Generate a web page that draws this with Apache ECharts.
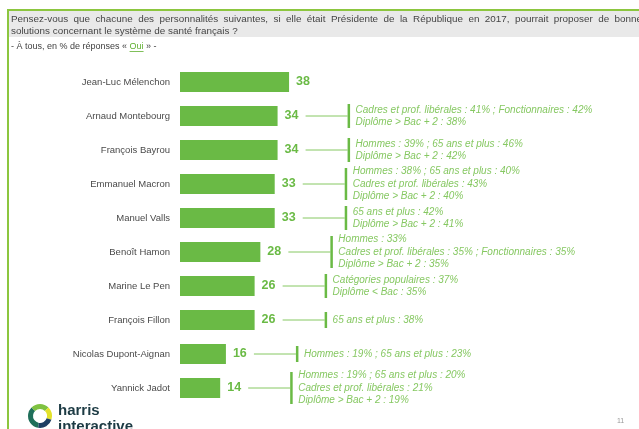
<!DOCTYPE html>
<html><head><meta charset="utf-8">
<script src="https://cdn.jsdelivr.net/npm/echarts@6/dist/echarts.min.js"></script>
<style>html,body{margin:0;padding:0;background:#fff;}#c{width:639px;height:429px;}</style>
</head><body><div id="c"></div>
<script>
const categories = ['Jean-Luc Mélenchon','Arnaud Montebourg','François Bayrou','Emmanuel Macron','Manuel Valls','Benoît Hamon','Marine Le Pen','François Fillon','Nicolas Dupont-Aignan','Yannick Jadot'];
const values = [38,34,34,33,33,28,26,26,16,14];
const notes = [
  [],
  ['Cadres et prof. libérales : 41% ; Fonctionnaires : 42%','Diplôme > Bac + 2 : 38%'],
  ['Hommes : 39% ; 65 ans et plus : 46%','Diplôme > Bac + 2 : 42%'],
  ['Hommes : 38% ; 65 ans et plus : 40%','Cadres et prof. libérales : 43%','Diplôme > Bac + 2 : 40%'],
  ['65 ans et plus : 42%','Diplôme > Bac + 2 : 41%'],
  ['Hommes : 33%','Cadres et prof. libérales : 35% ; Fonctionnaires : 35%','Diplôme > Bac + 2 : 35%'],
  ['Catégories populaires : 37%','Diplôme < Bac : 35%'],
  ['65 ans et plus : 38%'],
  ['Hommes : 19% ; 65 ans et plus : 23%'],
  ['Hommes : 19% ; 65 ans et plus : 20%','Cadres et prof. libérales : 21%','Diplôme > Bac + 2 : 19%']
];
const titleLines = ['Pensez-vous que chacune des personnalités suivantes, si elle était Présidente de la République en 2017, pourrait proposer de bonnes','solutions concernant le système de santé français ?'];
const subtitleParts = ['- À tous, en % de réponses « ','Oui',' » -'];

const GREEN = '#6aba45';
const LIGHT = '#86c862';
const FONT = '"Liberation Sans", Arial, sans-serif';
const TITLE_FONT = '9.9px ' + FONT;
const SUB_FONT = '9px ' + FONT;

const ctx = document.createElement('canvas').getContext('2d');
function measure(t, f){ ctx.font = f; return ctx.measureText(t).width; }

const graphics = [
  {type:'rect', shape:{x:9,y:10,width:630,height:27}, style:{fill:'#e9e9e9'}, z:0},
  {type:'rect', shape:{x:7,y:9,width:632,height:2}, style:{fill:'#8cc63f'}},
  {type:'rect', shape:{x:7,y:9,width:2,height:420}, style:{fill:'#8cc63f'}}
];
(function(){
  const words = titleLines[0].split(' ');
  const total = words.reduce((s,w)=>s+measure(w,TITLE_FONT),0);
  const gap = (647 - 11 - total)/(words.length-1);
  let x = 11;
  words.forEach(w=>{
    graphics.push({type:'text', x:x, y:19, style:{text:w, fill:'#454545', font:TITLE_FONT, verticalAlign:'middle'}});
    x += measure(w,TITLE_FONT) + gap;
  });
})();
graphics.push({type:'text', x:11, y:31, style:{text:titleLines[1], fill:'#454545', font:TITLE_FONT, verticalAlign:'middle'}});
(function(){
  const w0 = measure(subtitleParts[0], SUB_FONT);
  const w1 = measure(subtitleParts[1], SUB_FONT);
  const y = 46.5;
  graphics.push({type:'text', x:11, y:y, style:{text:subtitleParts[0], fill:'#404040', font:SUB_FONT, verticalAlign:'middle'}});
  graphics.push({type:'text', x:11+w0, y:y, style:{text:subtitleParts[1], fill:'#5fb030', font:SUB_FONT, verticalAlign:'middle'}});
  graphics.push({type:'line', shape:{x1:11+w0,y1:y+5,x2:11+w0+w1,y2:y+5}, style:{stroke:'#5fb030', lineWidth:0.8}});
  graphics.push({type:'text', x:11+w0+w1, y:y, style:{text:subtitleParts[2], fill:'#404040', font:SUB_FONT, verticalAlign:'middle'}});
})();
graphics.push(
  {type:'arc', shape:{cx:40, cy:416, r:9.5, startAngle:Math.PI*0.55, endAngle:Math.PI*1.25}, style:{stroke:'#1f6f5a', lineWidth:5, fill:null}},
  {type:'arc', shape:{cx:40, cy:416, r:9.5, startAngle:Math.PI*1.25, endAngle:Math.PI*1.75}, style:{stroke:'#7fc241', lineWidth:5, fill:null}},
  {type:'arc', shape:{cx:40, cy:416, r:9.5, startAngle:Math.PI*1.75, endAngle:Math.PI*2.1}, style:{stroke:'#e3e22a', lineWidth:5, fill:null}},
  {type:'arc', shape:{cx:40, cy:416, r:9.5, startAngle:Math.PI*0.1, endAngle:Math.PI*0.55}, style:{stroke:'#1d3f63', lineWidth:5, fill:null}},
  {type:'text', x:58, y:411, style:{text:'harris', fill:'#1d3b44', font:'bold 15px '+FONT, verticalAlign:'middle'}},
  {type:'text', x:58, y:427, style:{text:'interactive', fill:'#1d3b44', font:'bold 15px '+FONT, verticalAlign:'middle'}},
  {type:'text', x:617, y:421, style:{text:'11', fill:'#999', font:'7px '+FONT, verticalAlign:'middle'}}
);

const chart = echarts.init(document.getElementById('c'));
const noteData = values.map((v,i)=>[v,i]);

chart.setOption({
  animation:false,
  grid:{left:180, top:65, width:287, height:340},
  xAxis:{type:'value', min:0, max:100, show:false},
  yAxis:{type:'category', data:categories, inverse:true,
    axisLine:{show:false}, axisTick:{show:false}, splitLine:{show:false},
    axisLabel:{color:'#4a4a4a', fontSize:9.5, fontFamily:FONT, margin:10}},
  series:[
    {type:'bar', data:values, barWidth:20, itemStyle:{color:GREEN},
     label:{show:true, position:'right', distance:7, color:GREEN, fontSize:12.5, fontWeight:'bold', fontFamily:FONT}},
    {type:'custom', data:noteData, z:5, silent:true,
     renderItem:function(params, api){
       const i = api.value(1);
       const lines = notes[i];
       if(!lines.length) return {type:'group', children:[]};
       const p = api.coord([api.value(0), i]);
       const x0 = p[0]+28, x1 = p[0]+70, y = p[1];
       const h = lines.length*8+8;
       const children = [
         {type:'line', shape:{x1:x0,y1:y,x2:x1,y2:y}, style:{stroke:LIGHT, lineWidth:1}},
         {type:'rect', shape:{x:x1, y:y-h/2, width:2.5, height:h}, style:{fill:GREEN}}
       ];
       const lh = 12.3;
       lines.forEach((t,k)=>{
         children.push({type:'text', x:x1+8, y:y+(k-(lines.length-1)/2)*lh,
           style:{text:t, fill:LIGHT, font:'italic 10px '+FONT, verticalAlign:'middle', align:'left'}});
       });
       return {type:'group', children};
     }}
  ],
  graphic:graphics
});
</script></body></html>
